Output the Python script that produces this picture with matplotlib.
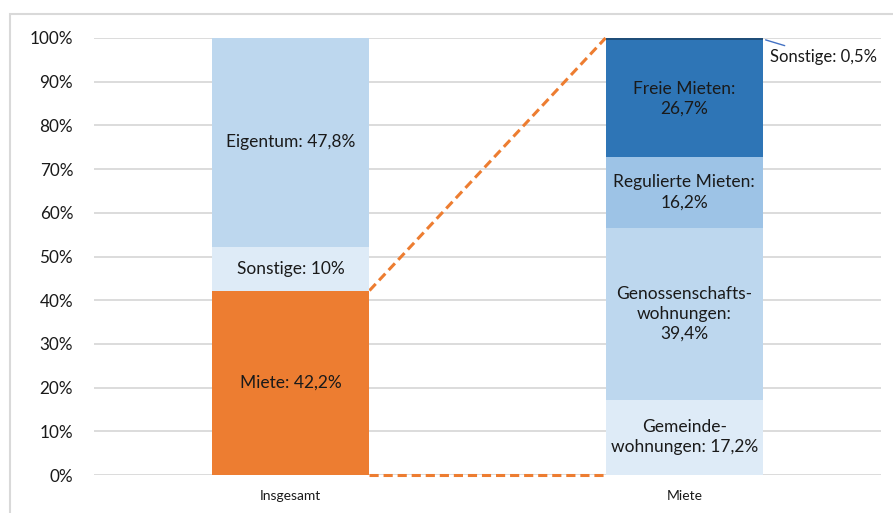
import matplotlib
matplotlib.use('Agg')
import matplotlib.pyplot as plt
from matplotlib.patches import Rectangle

# Data
categories = ['Insgesamt', 'Miete']
total_labels = ['Miete: 42,2%', 'Sonstige: 10%', 'Eigentum: 47,8%']
total_values = [42.2, 10.0, 47.8]
total_colors = ['#ED7D31', '#DEEBF7', '#BDD7EE']

rent_labels = ['Gemeinde-\nwohnungen: 17,2%', 'Genossenschafts-\nwohnungen:\n39,4%',
               'Regulierte Mieten:\n16,2%', 'Freie Mieten:\n26,7%', 'Sonstige: 0,5%']
rent_values = [17.2, 39.4, 16.2, 26.7, 0.5]
rent_colors = ['#DEEBF7', '#BDD7EE', '#9DC3E6', '#2E75B6', '#1F4E79']

plt.rcParams['font.family'] = ['Lato', 'DejaVu Sans']
text_color = '#1a1a1a'
bar_width = 0.4
label_size = 12.5

fig = plt.figure(figsize=(8.93, 5.13), dpi=100)
ax = fig.add_axes([94 / 893, 1 - 475 / 513, (881 - 94) / 893, (475 - 38) / 513])

# chart frame
fig.patches.append(Rectangle((10 / 893, -0.1), 1.2, 1 - 14 / 513 + 0.1, transform=fig.transFigure,
                             fill=False, edgecolor='#d9d9d9', linewidth=1.5))

# Insgesamt stack
bottom = 0
for val, col, lab in zip(total_values, total_colors, total_labels):
    ax.bar(0, val, bottom=bottom, width=bar_width, color=col, zorder=3)
    ax.text(0, bottom + val / 2, lab, ha='center', va='center', fontsize=label_size,
            color=text_color, zorder=4)
    bottom += val

# Miete stack
bottom = 0
for i, (val, col, lab) in enumerate(zip(rent_values, rent_colors, rent_labels)):
    ax.bar(1, val, bottom=bottom, width=bar_width, color=col, zorder=3)
    if i < len(rent_values) - 1:
        ax.text(1, bottom + val / 2, lab, ha='center', va='center', fontsize=label_size,
                color=text_color, linespacing=1.3, zorder=4)
    else:
        # label outside with leader line
        ax.annotate(lab, xy=(1 + bar_width / 2, bottom + val / 2), xytext=(1.217, 95.6),
                    ha='left', va='center', fontsize=12, color=text_color,
                    arrowprops=dict(arrowstyle='-', color='#4472C4', lw=1), annotation_clip=False)
    bottom += val

# dashed connector lines
ax.plot([bar_width / 2, 1 - bar_width / 2], [total_values[0], 100], ls='--', color='#ED7D31',
        lw=2.2, dashes=(3, 1.6), zorder=2, clip_on=False)
ax.plot([bar_width / 2, 1 - bar_width / 2], [0, 0], ls='--', color='#ED7D31',
        lw=2.2, dashes=(3, 1.6), zorder=2, clip_on=False)

ax.set_xlim(-0.5, 1.5)
ax.set_ylim(0, 100)
ax.set_yticks(range(0, 101, 10))
ax.set_yticklabels([f'{v}%' for v in range(0, 101, 10)], fontsize=12.3, color=text_color)
ax.set_xticks([0, 1])
ax.set_xticklabels(categories, fontsize=10, color=text_color)
ax.tick_params(axis='y', length=0, pad=15)
ax.tick_params(axis='x', length=0, pad=11)
ax.grid(axis='y', color='#d9d9d9', lw=1.3, zorder=0)
for s in ax.spines.values():
    s.set_visible(False)

fig.savefig('out.png', dpi=100)
